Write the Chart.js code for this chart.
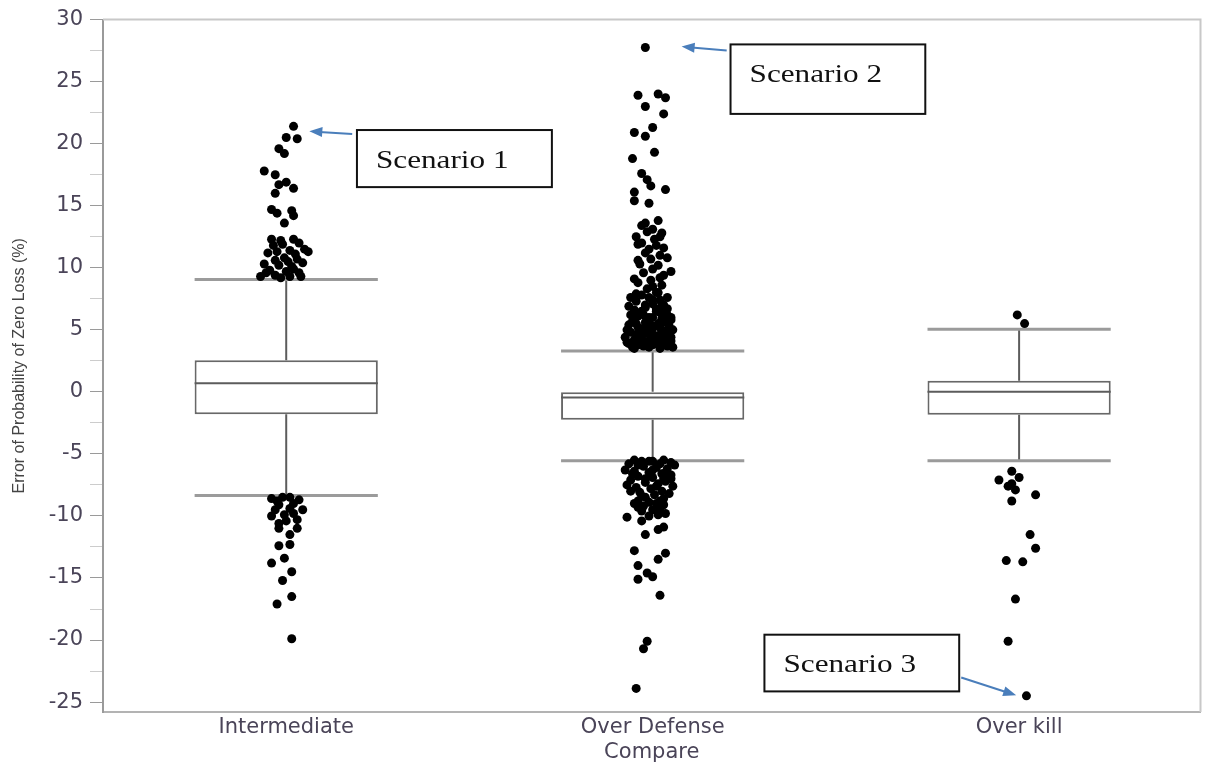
<!DOCTYPE html>
<html>
<head>
<meta charset="utf-8">
<script src="https://cdn.jsdelivr.net/npm/chart.js@4.4.1/dist/chart.umd.min.js"></script>
<style>
  html, body { margin: 0; padding: 0; background: #fff; }
</style>
</head>
<body>
<canvas id="chart" width="1205" height="765"></canvas>
<script>
var categories = ['Intermediate', 'Over Defense', 'Over kill'];
var q1 = [-1.8, -2.25, -1.85];
var medians = [0.7, -0.45, 0.0];
var q3 = [2.55, 0.0, 0.9];
var lowWhisker = [-8.35, -5.55, -5.55];
var highWhisker = [9.05, 3.3, 5.05];

// outlier points as [horizontal jitter, value]
var pointsIntermediate = [
    [0.02, 21.4], [0, 20.5], [0.03, 20.4], [-0.02, 19.6], [-0.005, 19.2],
    [-0.06, 17.8], [-0.03, 17.5], [-0.02, 16.7], [0, 16.9], [0.02, 16.4], [-0.03, 16.0],
    [-0.04, 14.7], [-0.025, 14.4], [0.015, 14.6], [0.02, 14.2], [-0.005, 13.6],
    [-0.04, 12.3], [-0.015, 12.2], [0.02, 12.3], [0.035, 12.0], [0.05, 11.5],
    [-0.05, 11.2], [-0.025, 11.3], [0.01, 11.4], [0.06, 11.3], [-0.005, 10.8],
    [-0.03, 10.6], [0.03, 10.7], [-0.06, 10.3], [-0.02, 10.2], [0.015, 10.1],
    [-0.045, 9.8], [0, 9.7], [0.035, 9.6], [-0.07, 9.3], [-0.03, 9.4], [0.01, 9.3], [0.02, 9.9],
    [-0.055, 9.6], [0.045, 10.4], [-0.01, 11.9], [0.025, 11.1], [-0.035, 11.8], [0.005, 10.5],
    [0.04, 9.3], [-0.015, 9.2],
    [-0.04, -8.6], [0.01, -8.5], [0.035, -8.7], [-0.02, -9.1], [0.045, -9.5],
    [0.01, -9.4], [-0.04, -10.0], [-0.005, -9.9], [0.03, -10.3], [-0.02, -10.6],
    [0.03, -11.0], [-0.02, -11.0], [0.01, -11.5], [-0.02, -12.4], [0.01, -12.3],
    [-0.025, -8.8], [0.02, -9.0], [-0.01, -8.5], [0, -10.4], [0.02, -9.8], [-0.03, -9.5],
    [-0.04, -13.8], [-0.005, -13.4], [0.015, -14.5], [-0.01, -15.2], [0.015, -16.5],
    [-0.025, -17.1], [0.015, -19.9]
];
var pointsOverDefense = [
    [-0.02, 27.75], [-0.04, 23.9], [0.015, 24.0], [0.035, 23.7], [-0.02, 23.0], [0.03, 22.4],
    [0, 21.3], [-0.05, 20.9], [-0.02, 20.6], [0.005, 19.3], [-0.055, 18.8],
    [-0.03, 17.6], [-0.015, 17.1], [-0.005, 16.6], [0.035, 16.3], [-0.05, 16.1], [-0.05, 15.4], [-0.01, 15.2],
    [-0.03, 13.4], [0.015, 13.8], [0.025, 12.8], [-0.04, 11.9], [0.005, 12.3], [0.03, 11.6], [-0.015, 12.9], [-0.02, 11.2],
    [0, 13.1], [0.02, 12.5], [-0.03, 12.0], [-0.01, 11.5], [0.02, 11.0], [-0.035, 10.3], [0, 9.9],
    [0.04, 10.8], [-0.045, 12.5], [0.01, 11.8], [-0.02, 13.6], [0.03, 9.4],
    [-0.005, 10.7], [-0.04, 10.6], [0.015, 10.2], [0.05, 9.7], [-0.05, 9.1], [-0.005, 9.0], [-0.025, 9.6], [0.02, 9.2],
    [0.025, 8.6], [-0.04, 8.8], [0, 8.5], [-0.02, 7.0],
    [-0.06, 7.6], [-0.03, 7.8], [0.015, 8.0], [0.04, 6.7], [-0.015, 8.3],
    [-0.045, 7.3], [0, 7.1], [0.03, 7.0], [-0.02, 6.8], [-0.05, 6.6], [0.01, 6.5], [-0.035, 6.3], [0.04, 6.2],
    [-0.01, 6.0], [0.025, 5.9], [-0.055, 5.7], [-0.02, 5.6], [0.015, 5.5], [0.045, 5.3], [-0.04, 5.2], [0, 5.1],
    [0.03, 4.9], [-0.06, 4.8], [-0.015, 4.7], [0.02, 4.6], [-0.035, 4.5], [0.05, 4.4], [0.005, 4.3], [-0.05, 4.2],
    [0.03, 4.1], [-0.02, 4.0], [0.01, 3.9], [-0.04, 3.8], [0.04, 3.7], [-0.01, 3.6], [0.02, 3.5], [-0.05, 3.5], [0.055, 3.6],
    [-0.065, 6.9], [-0.07, 5.0], [-0.075, 4.4], [-0.065, 3.9], [0.05, 5.8], [0.02, 6.4], [0.02, 7.4], [-0.03, 4.9],
    [0.015, 4.2], [-0.025, 3.7], [-0.005, 5.4], [-0.04, 6.1], [0.035, 3.8], [-0.045, 4.6],
    [0.01, 6.7], [-0.025, 6.2], [0.035, 5.6], [-0.01, 5.0], [0.045, 4.7], [-0.03, 4.3], [0.025, 4.0],
    [-0.055, 3.6], [0, 3.8], [0.03, 6.5], [-0.045, 5.5], [0.01, 4.5],
    [0.05, 6.0], [-0.06, 6.2], [0.055, 5.0], [-0.065, 5.4], [0.04, 7.6], [-0.01, 7.6], [0.045, 3.9],
    [-0.07, 4.0], [0, 4.6], [-0.02, 5.3], [0.02, 5.2], [0, 6.0], [-0.03, 6.5], [0.025, 6.9], [0, 7.4],
    [-0.045, 7.9], [0.01, 8.0], [0.05, 4.1], [-0.01, 4.1], [0.035, 4.4], [-0.04, 4.0],
    [-0.05, -5.5], [-0.01, -5.6], [0.03, -5.5], [0.05, -5.7], [-0.065, -5.8], [-0.025, -6.0], [0.01, -6.1], [0.04, -6.2],
    [-0.05, -6.4], [-0.01, -6.5], [0.025, -6.6], [-0.04, -6.8], [0, -6.9], [0.03, -7.0], [-0.06, -7.1], [-0.02, -7.3],
    [0.015, -7.4], [0.055, -7.6], [-0.045, -7.7], [-0.005, -7.8], [0.025, -8.0], [-0.035, -8.1], [0.005, -8.3],
    [-0.02, -8.5], [0.03, -8.6], [-0.04, -8.8], [0.01, -9.0], [-0.025, -9.2], [0.02, -9.4], [-0.03, -9.6], [0.035, -9.8],
    [-0.075, -6.3], [-0.07, -7.5], [0.06, -5.9], [0.05, -6.7], [0.045, -8.2], [0.02, -5.8], [-0.03, -5.6], [0, -6.3],
    [-0.02, -7.0], [0.035, -7.2], [-0.01, -8.9], [0.015, -9.9], [-0.04, -9.3],
    [0, -5.6], [-0.04, -5.9], [0.035, -6.5], [-0.055, -6.6], [0.01, -7.6], [-0.03, -8.4], [0.02, -8.8],
    [0.05, -7.0], [-0.05, -9.0], [0, -9.5], [0.03, -9.1], [-0.06, -8.0],
    [-0.07, -10.1], [-0.03, -10.4], [0.015, -11.1], [-0.02, -11.5], [0.03, -10.9], [-0.01, -10.0],
    [-0.05, -12.8], [0.035, -13.0], [0.015, -13.5], [-0.04, -14.0], [-0.015, -14.6], [-0.04, -15.1], [0, -14.9],
    [0.02, -16.4], [-0.015, -20.1], [-0.025, -20.7], [-0.045, -23.9]
];
var pointsOverKill = [
    [-0.005, 6.2], [0.015, 5.5],
    [-0.02, -6.4], [-0.055, -7.1], [-0.02, -7.4], [-0.01, -7.9], [0.045, -8.3], [-0.02, -8.8], [0, -6.9], [-0.03, -7.6],
    [0.03, -11.5], [0.045, -12.6], [-0.035, -13.6], [0.01, -13.7], [-0.01, -16.7], [-0.03, -20.1], [0.02, -24.5]
];

var scenarioNames = ['Scenario 1', 'Scenario 2', 'Scenario 3'];

// build datasets
var allPoints = [pointsIntermediate, pointsOverDefense, pointsOverKill];
var scatterData = [];
allPoints.forEach(function (list, i) {
    list.forEach(function (p) {
        scatterData.push({ x: i + p[0], y: p[1] });
    });
});

var half = 0.25;
var boxData = [], whiskerData = [], capData = [], medianData = [];
categories.forEach(function (c, i) {
    boxData.push({ x: i, y: [q1[i], q3[i]] });
    whiskerData.push({ x: i, y: q3[i] }, { x: i, y: highWhisker[i] }, { x: i, y: null });
    whiskerData.push({ x: i, y: q1[i] }, { x: i, y: lowWhisker[i] }, { x: i, y: null });
    capData.push({ x: i - half, y: highWhisker[i] }, { x: i + half, y: highWhisker[i] }, { x: i, y: null });
    capData.push({ x: i - half, y: lowWhisker[i] }, { x: i + half, y: lowWhisker[i] }, { x: i, y: null });
    medianData.push({ x: i - half, y: medians[i] }, { x: i + half, y: medians[i] }, { x: i, y: null });
});

// annotation layout, in axis units
var scenarioBoxes = [
    { x0: 0.193, x1: 0.725, y0: 21.1, y1: 16.5, textY: 18.6 },
    { x0: 1.2125, x1: 1.744, y0: 28.0, y1: 22.4, textY: 25.5 },
    { x0: 1.305, x1: 1.8365, y0: -19.57, y1: -24.14, textY: -22.06 }
];
var scenarioArrows = [
    { from: [0.18, 20.78], to: [0.063, 21.0] },
    { from: [1.202, 27.51], to: [1.079, 27.83] },
    { from: [1.842, -23.02], to: [1.992, -24.46] }
];

var framePlugin = {
    id: 'frame',
    beforeDatasetsDraw: function (chart) {
        var a = chart.chartArea, c = chart.ctx;
        c.save();
        c.strokeStyle = '#c8c8c8';
        c.lineWidth = 2;
        c.beginPath();
        c.moveTo(a.left, a.top);
        c.lineTo(a.right, a.top);
        c.lineTo(a.right, a.bottom);
        c.stroke();
        c.restore();
    }
};

var scenarioPlugin = {
    id: 'scenarios',
    afterDatasetsDraw: function (chart) {
        var c = chart.ctx, xs = chart.scales.x, ys = chart.scales.y;
        c.save();
        scenarioBoxes.forEach(function (b, i) {
            var l = xs.getPixelForValue(b.x0), r = xs.getPixelForValue(b.x1);
            var t = ys.getPixelForValue(b.y0), btm = ys.getPixelForValue(b.y1);
            c.fillStyle = '#fff';
            c.fillRect(l, t, r - l, btm - t);
            c.strokeStyle = '#111';
            c.lineWidth = 2;
            c.strokeRect(l, t, r - l, btm - t);
            c.save();
            c.translate(l + 19, ys.getPixelForValue(b.textY));
            c.scale(1.2, 1);
            c.fillStyle = '#111';
            c.font = '26px "Liberation Serif", "Times New Roman", serif';
            c.textBaseline = 'middle';
            c.textAlign = 'left';
            c.fillText(scenarioNames[i], 0, 0);
            c.restore();
        });
        scenarioArrows.forEach(function (a) {
            var x1 = xs.getPixelForValue(a.from[0]), y1 = ys.getPixelForValue(a.from[1]);
            var x2 = xs.getPixelForValue(a.to[0]), y2 = ys.getPixelForValue(a.to[1]);
            var ang = Math.atan2(y2 - y1, x2 - x1);
            c.strokeStyle = '#4a7ebb';
            c.fillStyle = '#4a7ebb';
            c.lineWidth = 2;
            c.beginPath();
            c.moveTo(x1, y1);
            c.lineTo(x2 - 10 * Math.cos(ang), y2 - 10 * Math.sin(ang));
            c.stroke();
            c.beginPath();
            c.moveTo(x2, y2);
            c.lineTo(x2 - 13 * Math.cos(ang) + 5 * Math.sin(ang), y2 - 13 * Math.sin(ang) - 5 * Math.cos(ang));
            c.lineTo(x2 - 13 * Math.cos(ang) - 5 * Math.sin(ang), y2 - 13 * Math.sin(ang) + 5 * Math.cos(ang));
            c.closePath();
            c.fill();
        });
        c.restore();
    }
};

var tickFont = { family: '"DejaVu Sans", sans-serif', size: 21 };
var tickColor = '#4a4458';

var ctx = document.getElementById('chart').getContext('2d');
var boxChart = new Chart(ctx, {
    type: 'scatter',
    data: {
        datasets: [
            {
                type: 'scatter',
                data: scatterData,
                pointRadius: 4.5,
                pointBackgroundColor: '#000',
                pointBorderWidth: 0,
                order: 0
            },
            {
                type: 'scatter',
                data: capData,
                showLine: true,
                spanGaps: false,
                borderColor: '#9b9b9b',
                borderWidth: 3,
                pointRadius: 0,
                order: 1
            },
            {
                type: 'scatter',
                data: whiskerData,
                showLine: true,
                spanGaps: false,
                borderColor: '#5c5c5c',
                borderWidth: 2,
                pointRadius: 0,
                order: 1
            },
            {
                type: 'scatter',
                data: medianData,
                showLine: true,
                spanGaps: false,
                borderColor: '#5c5c5c',
                borderWidth: 2,
                pointRadius: 0,
                order: 1
            },
            {
                type: 'bar',
                data: boxData,
                backgroundColor: '#fff',
                borderColor: '#686868',
                borderWidth: 2,
                borderSkipped: false,
                barPercentage: 0.5,
                categoryPercentage: 1,
                order: 3
            }
        ]
    },
    options: {
        responsive: false,
        animation: false,
        layout: { padding: { top: 16, right: 3, left: 0, bottom: 0 } },
        plugins: {
            legend: { display: false },
            tooltip: { enabled: false }
        },
        scales: {
            x: {
                type: 'linear',
                min: -0.5,
                max: 2.495,
                offset: false,
                grid: { display: false, drawTicks: false, tickLength: 0 },
                border: { color: '#b3b3b3', width: 2 },
                ticks: {
                    stepSize: 1,
                    includeBounds: false,
                    autoSkip: false,
                    maxRotation: 0,
                    padding: 3,
                    color: tickColor,
                    font: tickFont,
                    callback: function (v) {
                        return Number.isInteger(v) ? categories[v] : '';
                    }
                },
                title: {
                    display: true,
                    text: 'Compare',
                    color: tickColor,
                    font: tickFont,
                    padding: { top: 0, bottom: 0 }
                },
                afterFit: function (s) { s.height = 53; }
            },
            y: {
                min: -25.8,
                max: 30,
                grid: {
                    drawOnChartArea: false,
                    tickLength: 13,
                    tickColor: function (c) {
                        return c.tick && c.tick.value % 5 === 0 ? '#9a9a9a' : '#cccccc';
                    }
                },
                border: { color: '#9a9a9a', width: 2 },
                ticks: {
                    stepSize: 2.5,
                    includeBounds: false,
                    autoSkip: false,
                    padding: 7,
                    color: tickColor,
                    font: tickFont,
                    callback: function (v) {
                        return v % 5 === 0 ? String(v) : '';
                    }
                },
                title: {
                    display: true,
                    text: 'Error of Probability of Zero Loss (%)',
                    color: '#444',
                    font: { family: '"Liberation Sans Narrow", "Liberation Sans", sans-serif', size: 16 },
                    padding: { top: 10, bottom: 0 }
                },
                afterFit: function (s) { s.width = 103; }
            }
        }
    },
    plugins: [framePlugin, scenarioPlugin]
});
</script>
</body>
</html>
